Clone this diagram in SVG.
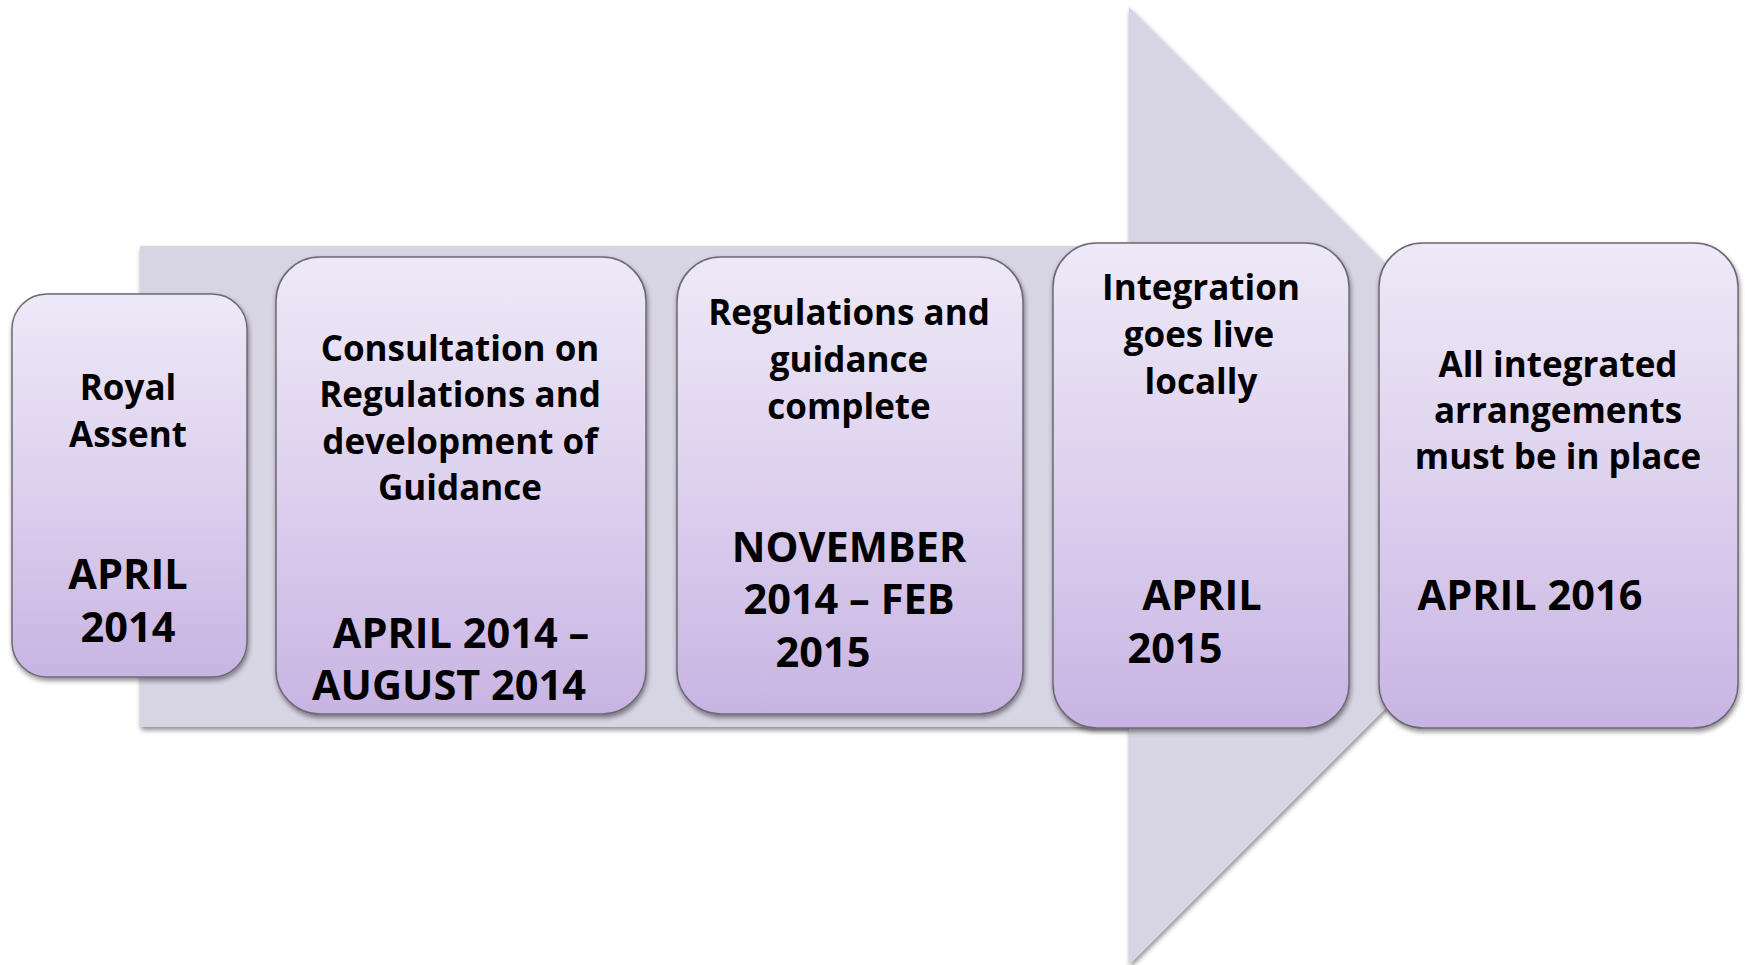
<svg xmlns="http://www.w3.org/2000/svg" width="1745" height="965" viewBox="0 0 1745 965">
  <defs>
    <linearGradient id="boxGrad" x1="0" y1="0" x2="0" y2="1">
      <stop offset="0" stop-color="#EEE9F7"/>
      <stop offset="0.5" stop-color="#DDD1EE"/>
      <stop offset="1" stop-color="#C8B4E3"/>
    </linearGradient>
    <filter id="shadow" x="-10%" y="-10%" width="125%" height="125%">
      <feGaussianBlur in="SourceAlpha" stdDeviation="2.5"/>
      <feOffset dx="1" dy="3" result="b"/>
      <feComponentTransfer><feFuncA type="linear" slope="0.45"/></feComponentTransfer>
      <feMerge><feMergeNode/><feMergeNode in="SourceGraphic"/></feMerge>
    </filter>
  </defs>
  <style>
    .box { fill: url(#boxGrad); stroke: #6E6875; stroke-width: 1.5; filter: url(#shadow); }
    .arrow { fill: #D7D4E3; filter: url(#shadow); }
    text { font-family: "Open Sans", Lato, "Liberation Sans", sans-serif; font-weight: bold; fill: #000; text-anchor: middle; }
    .h { font-size: 35px; }
    .d { font-size: 41.5px; }
  </style>
  <rect width="1745" height="965" fill="#FFFFFF"/>
  <g id="connectors">
    <polygon class="arrow" points="140,246 1129,246 1129,7 1608,486 1129,965 1129,727 140,727"/>
  </g>
  <g id="node1">
    <rect class="box" x="12" y="294" width="235" height="383" rx="35" ry="35"/>
    <text class="h" x="128" y="400">Royal</text>
    <text class="h" x="128" y="447">Assent</text>
    <text class="d" x="128" y="589">APRIL</text>
    <text class="d" x="128" y="642">2014</text>
  </g>
  <g id="node2">
    <rect class="box" x="276" y="257" width="370" height="457" rx="44" ry="44"/>
    <text class="h" x="460" y="361">Consultation on</text>
    <text class="h" x="460" y="407">Regulations and</text>
    <text class="h" x="460" y="454">development of</text>
    <text class="h" x="460" y="500">Guidance</text>
    <text class="d" x="461" y="648">APRIL 2014 –</text>
    <text class="d" x="449" y="700">AUGUST 2014</text>
  </g>
  <g id="node3">
    <rect class="box" x="677" y="257" width="346" height="457" rx="44" ry="44"/>
    <text class="h" x="849" y="325">Regulations and</text>
    <text class="h" x="849" y="372">guidance</text>
    <text class="h" x="849" y="419">complete</text>
    <text class="d" x="849" y="562">NOVEMBER</text>
    <text class="d" x="849" y="614">2014 – FEB</text>
    <text class="d" x="823" y="667">2015</text>
  </g>
  <g id="node4">
    <rect class="box" x="1053" y="243" width="296" height="485" rx="44" ry="44"/>
    <text class="h" x="1201" y="300">Integration</text>
    <text class="h" x="1199" y="347">goes live</text>
    <text class="h" x="1201" y="394">locally</text>
    <text class="d" x="1202" y="610">APRIL</text>
    <text class="d" x="1175" y="663">2015</text>
  </g>
  <g id="node5">
    <rect class="box" x="1379" y="243" width="359" height="485" rx="44" ry="44"/>
    <text class="h" x="1558" y="377">All integrated</text>
    <text class="h" x="1558" y="423">arrangements</text>
    <text class="h" x="1558" y="469">must be in place</text>
    <text class="d" x="1530" y="610">APRIL 2016</text>
  </g>
</svg>
